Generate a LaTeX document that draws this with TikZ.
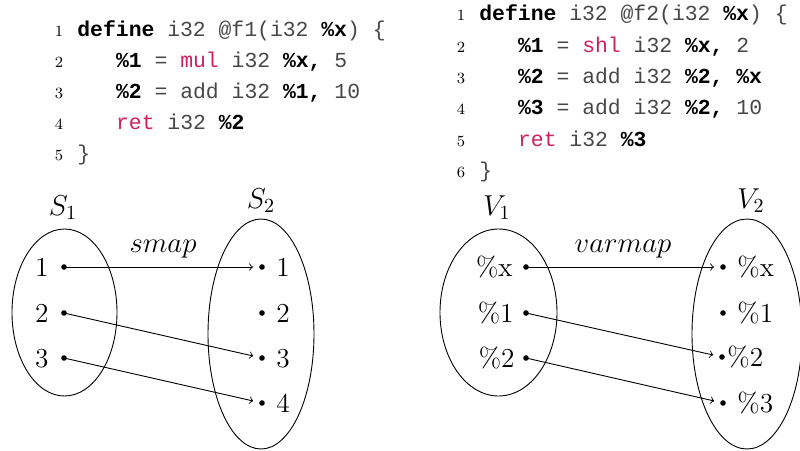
\documentclass[tikz,border=0pt]{standalone}
\usepackage{fontspec}
\setmonofont{Liberation Mono}
\usetikzlibrary{shapes.geometric}
\definecolor{kw}{RGB}{206,32,96}
\newcommand{\codefont}{\fontsize{10.7}{13}\ttfamily}
\newcommand{\kwd}[1]{\textcolor{kw}{#1}}
\newcommand{\bvar}[1]{\textbf{\textcolor{black}{#1}}}
\tikzset{
  lnum/.style={anchor=base, inner sep=0pt, font=\fontsize{7.8}{9}\selectfont},
  codeline/.style={anchor=base west, inner sep=0pt, font=\codefont, text=black!72},
  setshape/.style={draw, ellipse, inner sep=0pt, line width=0.45pt},
  elem/.style={circle, fill=black, inner sep=0pt, minimum size=2.8pt},
  elemlabel/.style={inner sep=0pt, font=\fontsize{13.7}{16}\selectfont},
  mapto/.style={->, line width=0.45pt, shorten >=4.5pt}
}
\begin{document}
\begin{tikzpicture}[x=0.5pt, y=-0.5pt]
\useasboundingbox (0,0) rectangle (800,451);

% ---- listing of f1 ----
\node[lnum] (n11) at (59,36)  {1};
\node[lnum] (n12) at (59,67)  {2};
\node[lnum] (n13) at (59,98)  {3};
\node[lnum] (n14) at (59,129) {4};
\node[lnum] (n15) at (59,160) {5};
\node[codeline] (c11) at (77,36)     {\bvar{define} i32 @f1(i32 \bvar{\%x}) \{};
\node[codeline] (c12) at (115.7,67)  {\bvar{\%1} = \kwd{mul} i32 \bvar{\%x,} 5};
\node[codeline] (c13) at (115.7,98)  {\bvar{\%2} = add i32 \bvar{\%1,} 10};
\node[codeline] (c14) at (115.7,129) {\kwd{ret} i32 \bvar{\%2}};
\node[codeline] (c15) at (77,160)    {\}};

% ---- listing of f2 ----
\node[lnum] (n21) at (461,20.5)  {1};
\node[lnum] (n22) at (461,52)    {2};
\node[lnum] (n23) at (461,83.3)  {3};
\node[lnum] (n24) at (461,114.7) {4};
\node[lnum] (n25) at (461,146)   {5};
\node[lnum] (n26) at (461,177.5) {6};
\node[codeline] (c21) at (479,20.5)    {\bvar{define} i32 @f2(i32 \bvar{\%x}) \{};
\node[codeline] (c22) at (517.7,52)    {\bvar{\%1} = \kwd{shl} i32 \bvar{\%x,} 2};
\node[codeline] (c23) at (517.7,83.3)  {\bvar{\%2} = add i32 \bvar{\%2, \%x}};
\node[codeline] (c24) at (517.7,114.7) {\bvar{\%3} = add i32 \bvar{\%2,} 10};
\node[codeline] (c25) at (517.7,146)   {\kwd{ret} i32 \bvar{\%3}};
\node[codeline] (c26) at (479,177.5)   {\}};

% ---- sets S1, S2 and the map smap ----
\node[setshape, minimum width=52.5pt, minimum height=83.5pt] (S1) at (64.5,312.5) {};
\node[setshape, minimum width=53pt, minimum height=115pt] (S2) at (261,334) {};
\node[elemlabel, anchor=base] (S1name) at (63,215) {$S_1$};
\node[elemlabel, anchor=base] (S2name) at (261,208) {$S_2$};
\node[elemlabel, anchor=base] (smap) at (163,252) {$smap$};

\node[elem] (s1a) at (64,267) {};
\node[elem] (s1b) at (64,313) {};
\node[elem] (s1c) at (64,358) {};
\node[elemlabel, anchor=base east] (l1a) at (49,276.5) {1};
\node[elemlabel, anchor=base east] (l1b) at (49,322.5) {2};
\node[elemlabel, anchor=base east] (l1c) at (49,367.5) {3};

\node[elem] (s2a) at (262,267) {};
\node[elem] (s2b) at (262,313) {};
\node[elem] (s2c) at (262,358) {};
\node[elem] (s2d) at (262,403) {};
\node[elemlabel, anchor=base west] (l2a) at (276,276.5) {1};
\node[elemlabel, anchor=base west] (l2b) at (276,322.5) {2};
\node[elemlabel, anchor=base west] (l2c) at (276,367.5) {3};
\node[elemlabel, anchor=base west] (l2d) at (276,412.5) {4};

\draw[mapto] (s1a.center) -- (s2a.center);
\draw[mapto] (s1b.center) -- (s2c.center);
\draw[mapto] (s1c.center) -- (s2d.center);

% ---- sets V1, V2 and the map varmap ----
\node[setshape, minimum width=58.5pt, minimum height=83.5pt] (V1) at (498.5,312.5) {};
\node[setshape, minimum width=55pt, minimum height=115pt] (V2) at (747,334) {};
\node[elemlabel, anchor=base] (V1name) at (497,215) {$V_1$};
\node[elemlabel, anchor=base] (V2name) at (751,208) {$V_2$};
\node[elemlabel, anchor=base] (varmap) at (623,252) {$varmap$};

\node[elem] (v1a) at (526,267) {};
\node[elem] (v1b) at (526,313) {};
\node[elem] (v1c) at (526,358) {};
\node[elemlabel, anchor=base east] (m1a) at (513,276.5) {\%x};
\node[elemlabel, anchor=base east] (m1b) at (514,322.5) {\%1};
\node[elemlabel, anchor=base east] (m1c) at (515,367.5) {\%2};

\node[elem] (v2a) at (723,267) {};
\node[elem] (v2b) at (723,313) {};
\node[elem] (v2c) at (722,357) {};
\node[elem] (v2d) at (723,403) {};
\node[elemlabel, anchor=base west] (m2a) at (737,276.5) {\%x};
\node[elemlabel, anchor=base west] (m2b) at (737,322.5) {\%1};
\node[elemlabel, anchor=base west] (m2c) at (727,366.5) {\%2};
\node[elemlabel, anchor=base west] (m2d) at (737,412.5) {\%3};

\draw[mapto] (v1a.center) -- (v2a.center);
\draw[mapto] (v1b.center) -- (v2c.center);
\draw[mapto] (v1c.center) -- (v2d.center);
\end{tikzpicture}
\end{document}
